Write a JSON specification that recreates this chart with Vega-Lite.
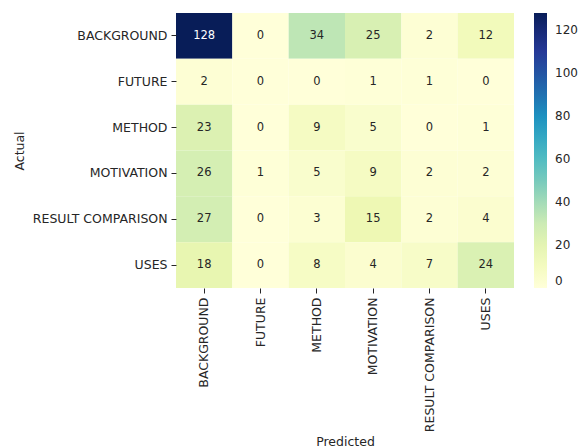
{
  "$schema": "https://vega.github.io/schema/vega-lite/v6.json",
  "autosize": "none",
  "padding": {"left": 176, "top": 13, "right": 68, "bottom": 160},
  "width": 338,
  "height": 275,
  "background": "white",
  "config": {"view": {"stroke": null}, "font": "DejaVu Sans"},
  "data": {"values": [
    {"actual": "BACKGROUND", "predicted": "BACKGROUND", "n": 128},
    {"actual": "BACKGROUND", "predicted": "FUTURE", "n": 0},
    {"actual": "BACKGROUND", "predicted": "METHOD", "n": 34},
    {"actual": "BACKGROUND", "predicted": "MOTIVATION", "n": 25},
    {"actual": "BACKGROUND", "predicted": "RESULT COMPARISON", "n": 2},
    {"actual": "BACKGROUND", "predicted": "USES", "n": 12},
    {"actual": "FUTURE", "predicted": "BACKGROUND", "n": 2},
    {"actual": "FUTURE", "predicted": "FUTURE", "n": 0},
    {"actual": "FUTURE", "predicted": "METHOD", "n": 0},
    {"actual": "FUTURE", "predicted": "MOTIVATION", "n": 1},
    {"actual": "FUTURE", "predicted": "RESULT COMPARISON", "n": 1},
    {"actual": "FUTURE", "predicted": "USES", "n": 0},
    {"actual": "METHOD", "predicted": "BACKGROUND", "n": 23},
    {"actual": "METHOD", "predicted": "FUTURE", "n": 0},
    {"actual": "METHOD", "predicted": "METHOD", "n": 9},
    {"actual": "METHOD", "predicted": "MOTIVATION", "n": 5},
    {"actual": "METHOD", "predicted": "RESULT COMPARISON", "n": 0},
    {"actual": "METHOD", "predicted": "USES", "n": 1},
    {"actual": "MOTIVATION", "predicted": "BACKGROUND", "n": 26},
    {"actual": "MOTIVATION", "predicted": "FUTURE", "n": 1},
    {"actual": "MOTIVATION", "predicted": "METHOD", "n": 5},
    {"actual": "MOTIVATION", "predicted": "MOTIVATION", "n": 9},
    {"actual": "MOTIVATION", "predicted": "RESULT COMPARISON", "n": 2},
    {"actual": "MOTIVATION", "predicted": "USES", "n": 2},
    {"actual": "RESULT COMPARISON", "predicted": "BACKGROUND", "n": 27},
    {"actual": "RESULT COMPARISON", "predicted": "FUTURE", "n": 0},
    {"actual": "RESULT COMPARISON", "predicted": "METHOD", "n": 3},
    {"actual": "RESULT COMPARISON", "predicted": "MOTIVATION", "n": 15},
    {"actual": "RESULT COMPARISON", "predicted": "RESULT COMPARISON", "n": 2},
    {"actual": "RESULT COMPARISON", "predicted": "USES", "n": 4},
    {"actual": "USES", "predicted": "BACKGROUND", "n": 18},
    {"actual": "USES", "predicted": "FUTURE", "n": 0},
    {"actual": "USES", "predicted": "METHOD", "n": 8},
    {"actual": "USES", "predicted": "MOTIVATION", "n": 4},
    {"actual": "USES", "predicted": "RESULT COMPARISON", "n": 7},
    {"actual": "USES", "predicted": "USES", "n": 24}
  ]},
  "encoding": {
    "x": {"field": "predicted", "type": "nominal", "sort": null, "scale": {"paddingInner": 0, "paddingOuter": 0},
      "axis": {"title": "Predicted", "labelAngle": 270, "labelFontSize": 12.5, "labelColor": "#262626", "titleFontSize": 12.5, "titleFontWeight": "normal", "titleColor": "#262626", "domain": false, "tickColor": "#262626", "tickSize": 5, "labelPadding": 4, "titlePadding": 4}},
    "y": {"field": "actual", "type": "nominal", "sort": null, "scale": {"paddingInner": 0, "paddingOuter": 0},
      "axis": {"title": "Actual", "labelFontSize": 12.5, "labelColor": "#262626", "titleFontSize": 12.5, "titleFontWeight": "normal", "titleColor": "#262626", "domain": false, "tickColor": "#262626", "tickSize": 5, "labelPadding": 4, "titlePadding": 6}}
  },
  "layer": [
    {"mark": {"type": "rect"},
     "encoding": {"color": {"field": "n", "type": "quantitative",
       "scale": {"domain": [0, 128], "range": ["#ffffd9", "#edf8b1", "#c7e9b4", "#7fcdbb", "#41b6c4", "#1d91c0", "#225ea8", "#253494", "#081d58"], "interpolate": "rgb"},
       "legend": {"title": null, "gradientLength": 275, "gradientThickness": 13, "offset": 20, "values": [0, 20, 40, 60, 80, 100, 120], "labelFontSize": 12, "labelColor": "#262626", "labelOffset": 8, "labelBaseline": "middle", "gradientStrokeWidth": 0}}}},
    {"mark": {"type": "text", "fontSize": 11.5},
     "encoding": {"text": {"field": "n", "type": "quantitative"},
       "color": {"condition": {"test": "datum.n > 80", "value": "white"}, "value": "#262626"}}}
  ]
}
